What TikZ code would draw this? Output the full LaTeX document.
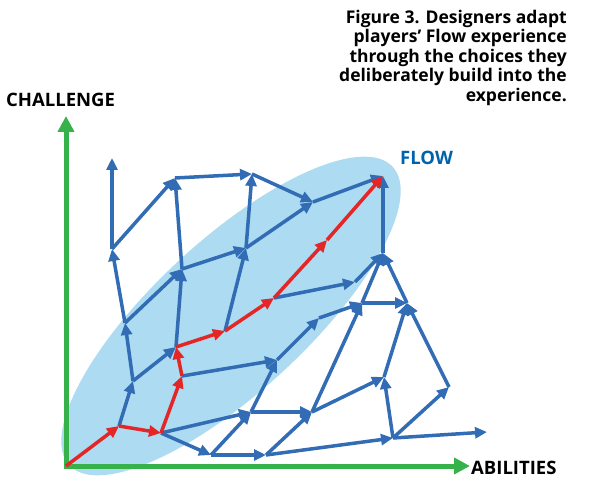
\documentclass[tikz,border=0pt]{standalone}
\usepackage{fontspec}
\setmainfont{Open Sans}
\usetikzlibrary{arrows.meta}

\definecolor{flowfill}{RGB}{172,219,242}
\definecolor{choiceblue}{RGB}{50,108,180}
\definecolor{flowred}{RGB}{228,38,38}
\definecolor{axisgreen}{RGB}{55,178,75}
\definecolor{flowtext}{RGB}{0,98,172}

\begin{document}
\begin{tikzpicture}[x = 1pt, y = -1pt,
	choice/.style = {draw = choiceblue, line width = 3.5pt, -{Triangle[length = 12pt, width = 11pt]}},
	flowpath/.style = {draw = flowred, line width = 3.5pt, -{Triangle[length = 12pt, width = 11pt]}},
	axis/.style = {draw = axisgreen, line width = 5pt},
	axislabel/.style = {font = \bfseries\fontsize{18.5}{22}\selectfont, inner sep = 0pt}]
	\useasboundingbox (0,0) rectangle (592,481);

	% flow channel
	\fill[flowfill, rotate around = {42.7:(231,316)}] (231,316) ellipse [x radius = 220, y radius = 76];

	% axes
	\coordinate (O) at (66,466);
	\coordinate (Ytip) at (66,116);
	\coordinate (Xtip) at (470,466);
	\draw[axis, {Triangle[length = 16pt, width = 16pt]}-{Triangle[length = 16pt, width = 16pt]}] (Ytip) -- (O) -- (Xtip);
	\node[axislabel, anchor = west] (challenge) at (6,100) {CHALLENGE};
	\node[axislabel, anchor = west] (abilities) at (471,468) {ABILITIES};
	\node[axislabel, anchor = west, text = flowtext] (flow) at (400,158) {FLOW};

	% junctions
	\coordinate (R1) at (119,426);
	\coordinate (R2) at (161,433);
	\coordinate (R3) at (182,376);
	\coordinate (R4) at (176,347);
	\coordinate (R5) at (225,331);
	\coordinate (R6) at (274,298);
	\coordinate (R7) at (327,240);
	\coordinate (F) at (383,176);
	\coordinate (A1) at (112,249);
	\coordinate (A0) at (112,158);
	\coordinate (B1) at (175,178);
	\coordinate (C1) at (252,174);
	\coordinate (D1) at (313,202);
	\coordinate (C2) at (246,248);
	\coordinate (E1) at (182,269);
	\coordinate (B2) at (133,381);
	\coordinate (B3) at (125,323);
	\coordinate (G1) at (383,253);
	\coordinate (H) at (355,282);
	\coordinate (I) at (362,303);
	\coordinate (J) at (407,303);
	\coordinate (Q) at (319,318);
	\coordinate (P) at (277,360);
	\coordinate (S) at (251,412);
	\coordinate (T) at (312,412);
	\coordinate (M) at (384,377);
	\coordinate (K) at (449,387);
	\coordinate (L) at (393,438);
	\coordinate (L0) at (487,432);
	\coordinate (U) at (266,455);
	\coordinate (V) at (211,455);

	% choices
	\draw[choice] (A1) -- (A0);
	\draw[choice] (A1) -- (B1);
	\draw[choice] (E1) -- (B1);
	\draw[choice] (B1) -- (C1);
	\draw[choice] (C1) -- (D1);
	\draw[choice] (D1) -- (F);
	\draw[choice] (C2) -- (C1);
	\draw[choice] (C2) -- (D1);
	\draw[choice] (E1) -- (C2);
	\draw[choice] (R5) -- (C2);
	\draw[choice] (B3) -- (A1);
	\draw[choice] (B3) -- (E1);
	\draw[choice] (R1) -- (B2);
	\draw[choice] (B2) -- (B3);
	\draw[choice] (B2) -- (R4);
	\draw[choice] (R4) -- (E1);
	\draw[choice] (R3) -- (P);
	\draw[choice] (R2) -- (S);
	\draw[choice] (R2) -- (V);
	\draw[choice] (V) -- (S);
	\draw[choice] (V) -- (U);
	\draw[choice] (U) -- (T);
	\draw[choice] (U) -- (L);
	\draw[choice] (S) -- (T);
	\draw[choice] (S) -- (P);
	\draw[choice] (P) -- (Q);
	\draw[choice] (Q) -- (I);
	\draw[choice] (R6) -- (H);
	\draw[choice] (H) -- (G1);
	\draw[choice] (I) -- (G1);
	\draw[choice] (J) -- (G1);
	\draw[choice] (G1) -- (F);
	\draw[choice] (I) -- (J);
	\draw[choice] (T) -- (I);
	\draw[choice] (T) -- (M);
	\draw[choice] (M) -- (J);
	\draw[choice] (L) -- (M);
	\draw[choice] (L) -- (K);
	\draw[choice] (K) -- (J);
	\draw[choice] (L) -- (L0);

	% the flow path
	\draw[flowpath] (O) -- (R1);
	\draw[flowpath] (R1) -- (R2);
	\draw[flowpath] (R2) -- (R3);
	\draw[flowpath] (R3) -- (R4);
	\draw[flowpath] (R4) -- (R5);
	\draw[flowpath] (R5) -- (R6);
	\draw[flowpath] (R6) -- (R7);
	\draw[flowpath] (R7) -- (F);

	% caption
	\node[anchor = north east, align = right, inner sep = 0pt,
		font = \bfseries\fontsize{17.5}{19.5}\selectfont] (caption) at (567,10)
		{Figure 3. Designers adapt\\ players’ Flow experience\\ through the choices they\\ deliberately build into the\\ experience.};
\end{tikzpicture}
\end{document}
